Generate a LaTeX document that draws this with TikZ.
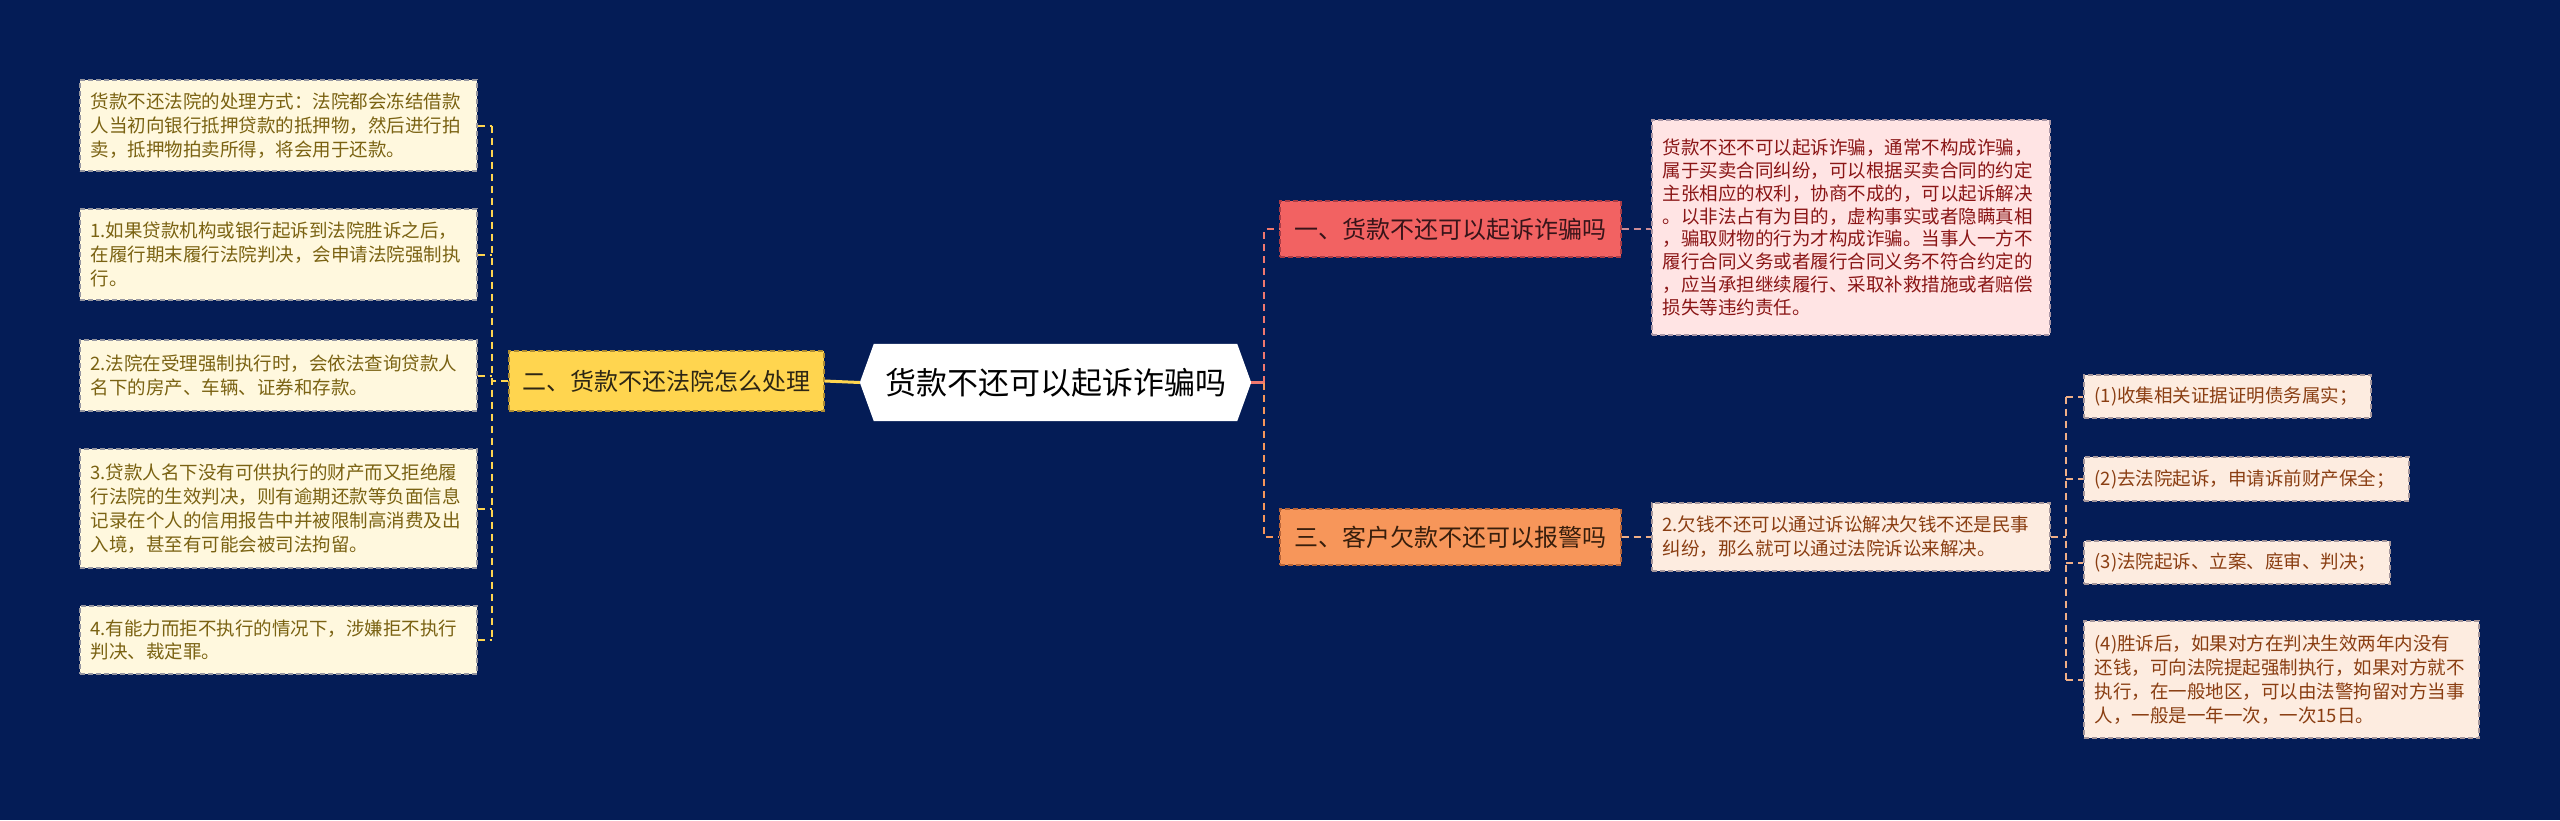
\documentclass[tikz,border=0pt]{standalone}
\usepackage{fontspec}
\setmainfont{Noto Sans CJK SC}
\usetikzlibrary{backgrounds}
\definecolor{bg}{RGB}{4,28,86}
\definecolor{cream}{RGB}{255,248,222}
\definecolor{creamtxt}{RGB}{122,98,18}
\definecolor{creamln}{RGB}{150,150,160}
\definecolor{ylw}{RGB}{255,213,79}
\definecolor{ylwln}{RGB}{175,140,50}
\definecolor{ylwtxt}{RGB}{45,38,20}
\definecolor{redn}{RGB}{242,98,98}
\definecolor{redln}{RGB}{170,60,70}
\definecolor{redtxt}{RGB}{55,20,25}
\definecolor{pink}{RGB}{255,228,228}
\definecolor{pinkln}{RGB}{170,150,165}
\definecolor{pinktxt}{RGB}{138,22,22}
\definecolor{orn}{RGB}{247,150,90}
\definecolor{ornln}{RGB}{185,100,55}
\definecolor{orntxt}{RGB}{55,30,12}
\definecolor{peach}{RGB}{253,236,224}
\definecolor{peachln}{RGB}{165,150,155}
\definecolor{peachtxt}{RGB}{138,62,18}
\definecolor{salmonln}{RGB}{240,120,110}
\definecolor{pinkcon}{RGB}{205,140,150}
\definecolor{peachcon}{RGB}{240,175,135}
\begin{document}
\begin{tikzpicture}[x=1pt,y=-1pt,
  tbox/.style={draw=#1, dash pattern=on 5pt off 3pt, line width=1.3pt, anchor=center,
     inner xsep=10.5pt, inner ysep=0pt, align=left},
  leftbox/.style={tbox=creamln, fill=cream, text=creamtxt, text width=376pt,
     minimum width=397pt, font=\fontsize{18.5}{23.8}\selectfont},
  detbox/.style={tbox=pinkln, fill=pink, text=pinktxt, text width=377pt,
     minimum width=398pt, font=\fontsize{18.5}{22.8}\selectfont},
  pchbox/.style={tbox=peachln, fill=peach, text=peachtxt,
     font=\fontsize{18.5}{24}\selectfont},
  branch/.style={draw=#1, dash pattern=on 5pt off 3pt, line width=1.3pt, anchor=center,
     minimum width=341pt, minimum height=56pt, inner sep=0pt, align=center,
     font=\fontsize{24}{28}\selectfont},
  ycon/.style={draw=ylw, line width=2pt, dash pattern=on 7pt off 5pt},
  rcon/.style={draw=salmonln, line width=2pt, dash pattern=on 7pt off 5pt},
  ocon/.style={draw=orn, line width=2pt, dash pattern=on 7pt off 5pt},
  pcon/.style={draw=pinkcon, line width=2pt, dash pattern=on 7pt off 5pt},
  qcon/.style={draw=peachcon, line width=2pt, dash pattern=on 7pt off 5pt}
]
\useasboundingbox (0,0) rectangle (2560,820);

% central node
\node[minimum width=391pt, minimum height=77pt, inner sep=0pt, anchor=center,
      font=\fontsize{31}{36}\selectfont, text=black] (c) at (1055.5,382.5) {货款不还可以起诉诈骗吗};
\begin{scope}[on background layer]
\fill[bg] (0,0) rectangle (2560,820);
\fill[white] (c.west) -- ([xshift=14pt]c.north west) -- ([xshift=-14pt]c.north east)
   -- (c.east) -- ([xshift=-14pt]c.south east) -- ([xshift=14pt]c.south west) -- cycle;
\end{scope}

% left branch
\node[branch=ylwln, fill=ylw, text=ylwtxt, minimum width=315pt, minimum height=60pt] (yl) at (666.5,381) {二、货款不还法院怎么处理};

\node[leftbox, minimum height=91pt] (b1) at (278.5,125.5) {货款不还法院的处理方式：法院都会冻结借款\\人当初向银行抵押贷款的抵押物，然后进行拍\\卖，抵押物拍卖所得，将会用于还款。};
\node[leftbox, minimum height=91pt] (b2) at (278.5,254.5) {1.如果贷款机构或银行起诉到法院胜诉之后，\\在履行期末履行法院判决，会申请法院强制执\\行。};
\node[leftbox, minimum height=71pt] (b3) at (278.5,375.5) {2.法院在受理强制执行时，会依法查询贷款人\\名下的房产、车辆、证券和存款。};
\node[leftbox, minimum height=119pt] (b4) at (278.5,508.5) {3.贷款人名下没有可供执行的财产而又拒绝履\\行法院的生效判决，则有逾期还款等负面信息\\记录在个人的信用报告中并被限制高消费及出\\入境，甚至有可能会被司法拘留。};
\node[leftbox, minimum height=68pt] (b5) at (278.5,640) {4.有能力而拒不执行的情况下，涉嫌拒不执行\\判决、裁定罪。};

% right branches
\node[branch=redln, fill=redn, text=redtxt] (r1) at (1450.5,229) {一、货款不还可以起诉诈骗吗};
\node[branch=ornln, fill=orn, text=orntxt] (r3) at (1450.5,537) {三、客户欠款不还可以报警吗};

\node[detbox, minimum height=215pt] (d1) at (1851,227.5) {货款不还不可以起诉诈骗，通常不构成诈骗，\\属于买卖合同纠纷，可以根据买卖合同的约定\\主张相应的权利，协商不成的，可以起诉解决\\。以非法占有为目的，虚构事实或者隐瞒真相\\，骗取财物的行为才构成诈骗。当事人一方不\\履行合同义务或者履行合同义务不符合约定的\\，应当承担继续履行、采取补救措施或者赔偿\\损失等违约责任。};
\node[pchbox, text width=377pt, minimum width=398pt, minimum height=68pt] (d3) at (1851,537) {2.欠钱不还可以通过诉讼解决欠钱不还是民事\\纠纷，那么就可以通过法院诉讼来解决。};

\node[pchbox, text width=266pt, minimum width=287pt, minimum height=43pt] (k1) at (2227.5,396.5) {(1)收集相关证据证明债务属实；};
\node[pchbox, text width=304pt, minimum width=325pt, minimum height=44pt] (k2) at (2246.5,479) {(2)去法院起诉，申请诉前财产保全；};
\node[pchbox, text width=285pt, minimum width=306pt, minimum height=43pt] (k3) at (2237,562.5) {(3)法院起诉、立案、庭审、判决；};
\node[pchbox, text width=374pt, minimum width=395pt, minimum height=117pt] (k4) at (2281.5,679.5) {(4)胜诉后，如果对方在判决生效两年内没有\\还钱，可向法院提起强制执行，如果对方就不\\执行，在一般地区，可以由法警拘留对方当事\\人，一般是一年一次，一次15日。};

% connectors: left
\coordinate (lb) at (492,381);
\draw[draw=ylw, line width=3pt] (c.west) -- (yl.east);
\draw[ycon] (yl.west) -- (lb);
\draw[ycon] (lb |- b1.east) -- (lb |- b5.east);
\foreach \b in {b1,b2,b3,b4,b5} \draw[ycon] (\b.east) -- (\b.east -| lb);

% connectors: right
\coordinate (rb) at (1264,382.5);
\draw[draw=salmonln, line width=3pt] (c.east) -- (rb);
\draw[rcon] (rb) -- (rb |- r1.west) -- (r1.west);
\draw[ocon] (rb) -- (rb |- r3.west) -- (r3.west);
\draw[pcon] (r1.east) -- (r1.east -| d1.west);
\draw[qcon] (r3.east) -- (d3.west);

\coordinate (cb) at (2066,537);
\draw[qcon] (d3.east) -- (cb);
\draw[qcon] (cb |- k1.west) -- (cb |- k4.west);
\foreach \k in {k1,k2,k3,k4} \draw[qcon] (\k.west -| cb) -- (\k.west);
\end{tikzpicture}
\end{document}
